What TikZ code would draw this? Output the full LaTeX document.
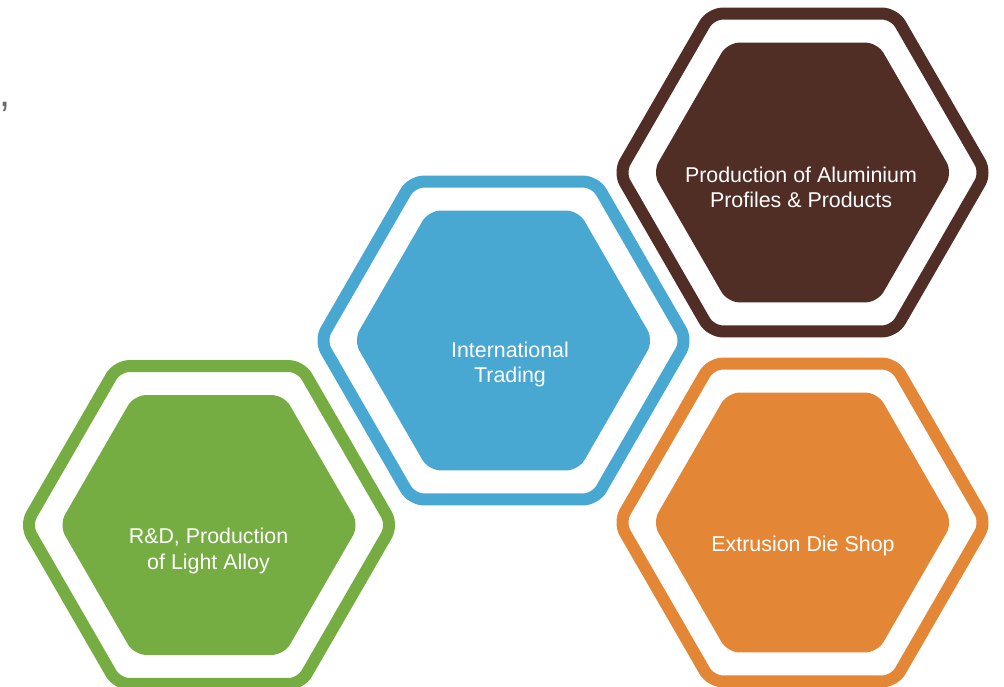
\documentclass[tikz,border=0pt]{standalone}
\usepackage{fontspec}
\setmainfont{Liberation Sans}
\usetikzlibrary{shapes.geometric}
\definecolor{hgreen}{HTML}{76AD42}
\definecolor{hblue}{HTML}{48A8D1}
\definecolor{hbrown}{HTML}{502D25}
\definecolor{horange}{HTML}{E38737}
\definecolor{commagray}{HTML}{6A6A6A}
\begin{document}
\begin{tikzpicture}[x=1pt,y=-1pt,
  hexring/.style={regular polygon, regular polygon sides=6, minimum size=367pt,
    draw=#1, line width=12pt, rounded corners=12pt, inner sep=0pt},
  hexfill/.style={regular polygon, regular polygon sides=6, minimum size=300pt,
    fill=#1, rounded corners=12pt, inner sep=0pt},
  hextext/.style={text=white, align=center, inner sep=0pt,
    font=\fontsize{21.4}{25.7}\selectfont}]
\useasboundingbox (0,0) rectangle (1004,687);

\node[hexring=hgreen] (greenring) at (209,525) {};
\node[hexfill=hgreen] (greenhex) at (209,525) {};
\node[hextext] (greentext) at (208.5,551) {R\&D, Production\\of Light Alloy};

\node[hexring=hblue] (bluering) at (503.5,340.5) {};
\node[hexfill=hblue] (bluehex) at (503.5,340.5) {};
\node[hextext] (bluetext) at (510,364.5) {International\\Trading};

\node[hexring=hbrown] (brownring) at (802.5,172.5) {};
\node[hexfill=hbrown] (brownhex) at (802.5,172.5) {};
\node[hextext] (browntext) at (801,187.5) {Production of Aluminium\\Profiles \& Products};

\node[hexring=horange] (orangering) at (802.5,522.5) {};
\node[hexfill=horange] (orangehex) at (802.5,522.5) {};
\node[hextext] (orangetext) at (803,545.5) {Extrusion Die Shop};

\node[text=commagray, anchor=base west, inner sep=0pt,
  font=\fontsize{40}{40}\selectfont] (comma) at (-1,107) {,};
\end{tikzpicture}
\end{document}
